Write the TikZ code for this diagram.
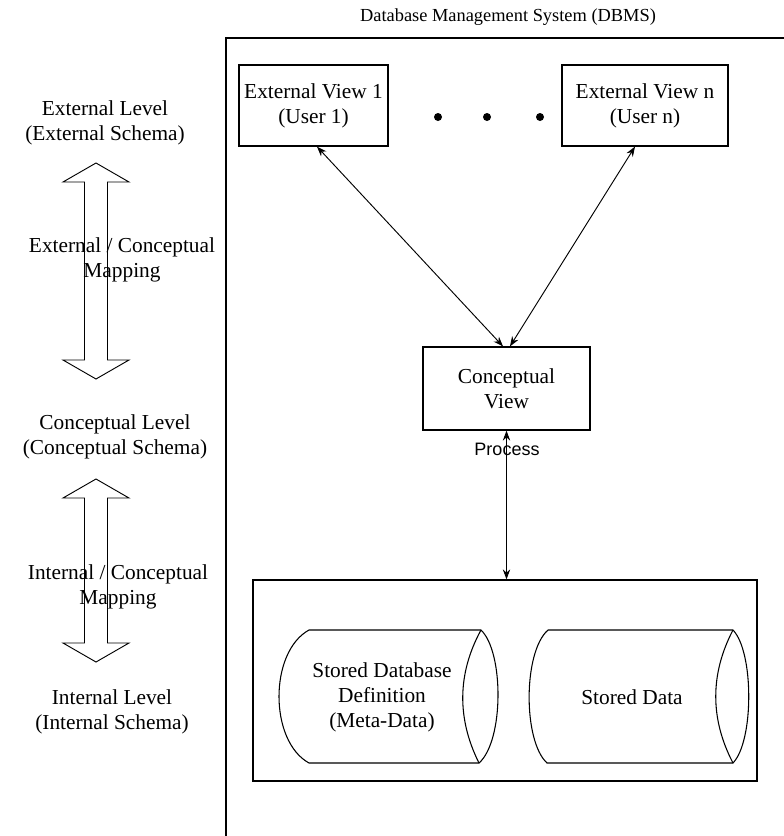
\documentclass[tikz,border=0pt]{standalone}
\usepackage{fontspec}
\setmainfont{Liberation Serif}
\newfontfamily\procfont{Liberation Sans}
\usetikzlibrary{arrows.meta,calc}

\begin{document}
\begin{tikzpicture}[x=0.75pt,y=-0.75pt,
  txt/.style={align=center,font=\fontsize{16}{18.75}\selectfont,inner sep=0pt},
  viewbox/.style={draw,line width=0.9pt,txt},
  dot/.style={circle,fill,inner sep=0pt,minimum size=6pt},
  link/.style={line width=0.7pt,{Stealth[length=7.5pt,width=5.5pt]}-{Stealth[length=7.5pt,width=5.5pt]}},
  blockarrow/.style={draw,line width=0.7pt,line join=miter},
  drum/.style={draw,line width=0.8pt},
  frame/.style={draw,line width=1.1pt}]
\useasboundingbox (0,0) rectangle (784,836);
\fill[white] (0,0) rectangle (784,836);

% DBMS frame, open towards the right and bottom edges
\begin{scope}
  \clip (0,0) rectangle (784,836);
  \draw[frame] (226,860) -- (226,38) -- (800,38);
\end{scope}
\node[txt,font=\fontsize{13.8}{16}\selectfont] (title) at (508,17) {Database Management System (DBMS)};

% external views
\node[viewbox,minimum width=111.75pt,minimum height=60.75pt] (ext1) at (313.5,105.5) {External View 1\\(User 1)};
\node[viewbox,minimum width=124.5pt,minimum height=60.75pt] (extn) at (645,105.5) {External View n\\(User n)};
\node[dot] (d1) at (438,117) {};
\node[dot] (d2) at (487,117) {};
\node[dot] (d3) at (540,117) {};

% conceptual view
\node[viewbox,minimum width=125.25pt,minimum height=62.25pt] (concept) at (506.5,388.5) {Conceptual\\View};
\node[font=\procfont\fontsize{13.5}{16}\selectfont,inner sep=0pt] (proc) at (507,449) {Process};

% storage block
\node[draw,line width=0.9pt,minimum width=378pt,minimum height=150.75pt,inner sep=0pt] (store) at (505,680.5) {};

% links
\draw[link] ([xshift=2.6pt]ext1.south) -- ([xshift=-2.6pt]concept.north);
\draw[link] ([xshift=-7.5pt]extn.south) -- ([xshift=2.6pt]concept.north);
\draw[link] (concept.south) -- (concept.south |- store.north);

% stored database definition drum
\draw[drum] (309,630) -- (481,630) .. controls (504,652) and (504,741) .. (479,763)
  -- (309,763) .. controls (269,741) and (269,652) .. (309,630) -- cycle;
\draw[drum] (481,630) .. controls (457,674) and (457,719) .. (479,763);
\node[txt] (meta) at (382,697) {Stored Database\\Definition\\(Meta-Data)};

% stored data drum
\draw[drum] (548,630) -- (733,630) .. controls (754,652) and (754,741) .. (733,763)
  -- (547,763) .. controls (523,741) and (523,652) .. (548,630) -- cycle;
\draw[drum] (733,630) .. controls (710,674) and (710,719) .. (733,763);
\node[txt] (data) at (632,697) {Stored Data};

% level mapping arrows
\draw[blockarrow] (96,163) -- (129,182) -- (107.5,182) -- (107.5,360) -- (129,360)
  -- (96,379) -- (63,360) -- (84.5,360) -- (84.5,182) -- (63,182) -- cycle;
\draw[blockarrow] (96,479) -- (129,498) -- (107.5,498) -- (107.5,643) -- (129,643)
  -- (96,662) -- (63,643) -- (84.5,643) -- (84.5,498) -- (63,498) -- cycle;

% level labels
\node[txt] (extlevel) at (105,122.5) {External Level\\(External Schema)};
\node[txt] (ecmap) at (122,259.5) {External / Conceptual\\Mapping};
\node[txt] (conclevel) at (115,436.5) {Conceptual Level\\(Conceptual Schema)};
\node[txt] (icmap) at (118,587) {Internal / Conceptual\\Mapping};
\node[txt] (intlevel) at (112,711.5) {Internal Level\\(Internal Schema)};
\end{tikzpicture}
\end{document}
